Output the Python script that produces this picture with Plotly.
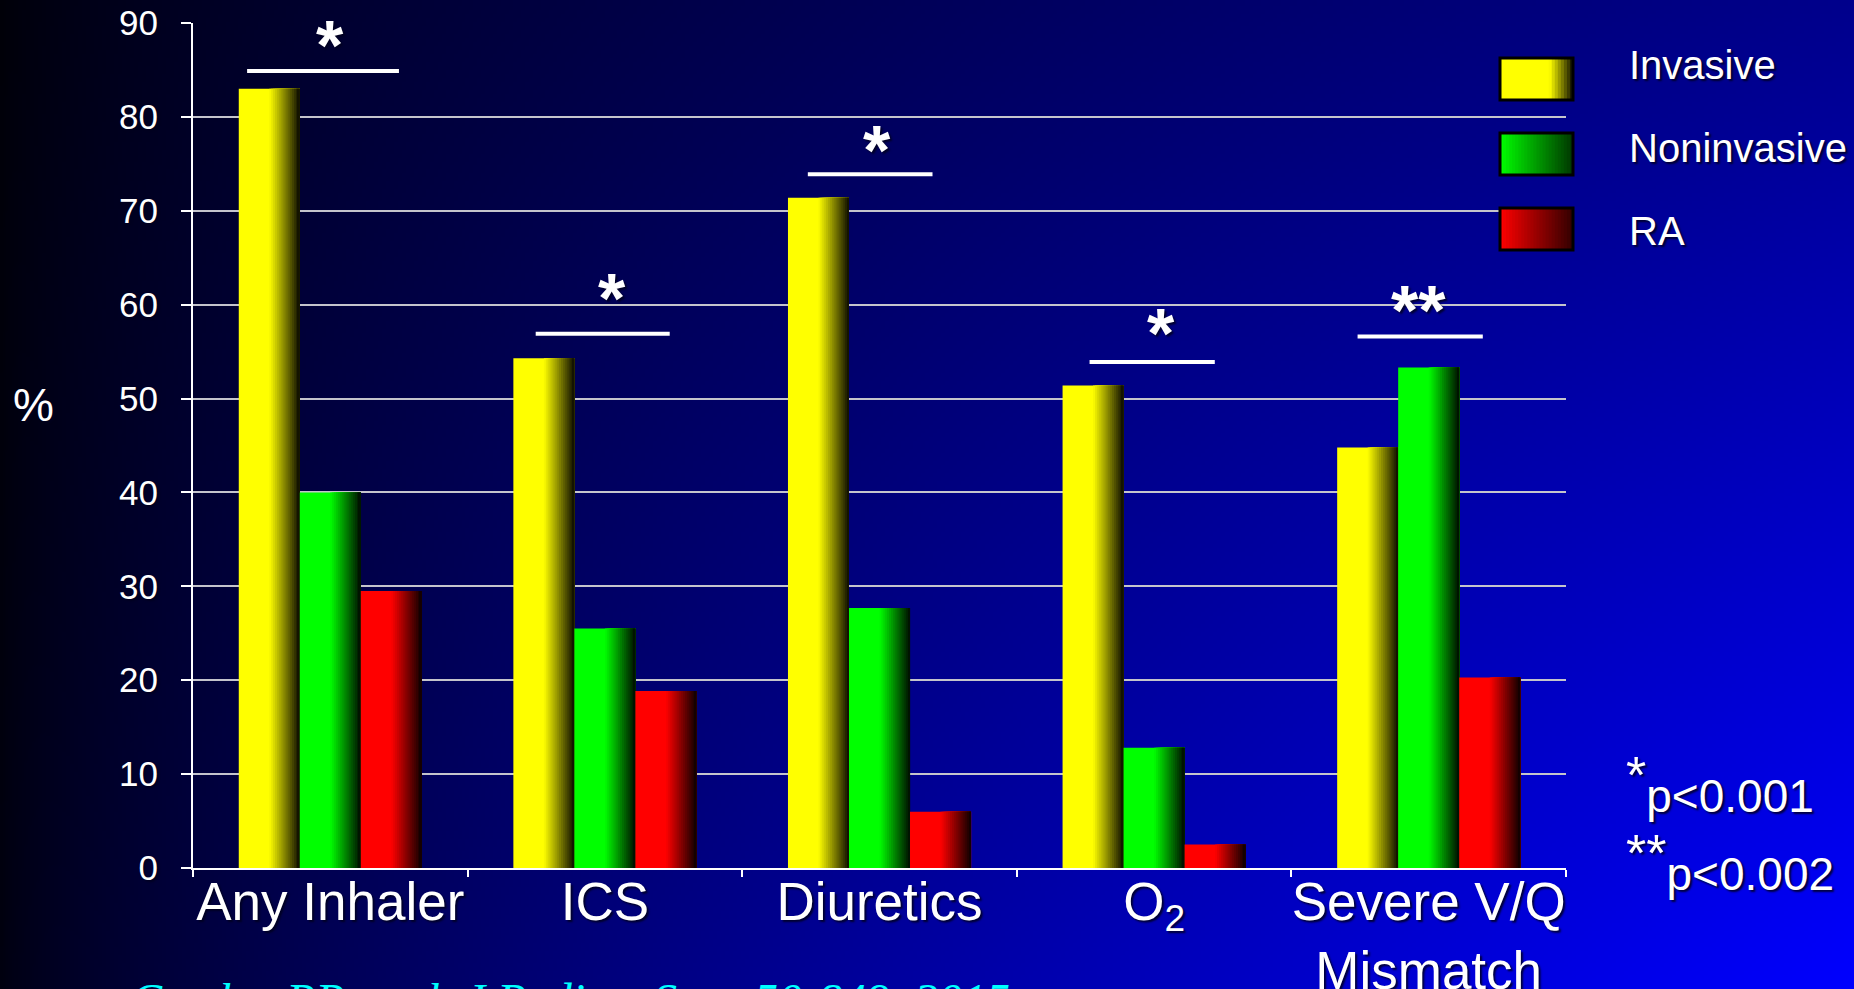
import base64
import struct
import zlib

import numpy as np
import plotly.graph_objects as go

# ---------------------------------------------------------------- data
categories = ["Any Inhaler", "ICS", "Diuretics", "O<sub>2</sub>", "Severe V/Q<br>Mismatch"]
series_names = ["Invasive", "Noninvasive", "RA"]
invasive = [83.0, 54.3, 71.4, 51.4, 44.8]
noninvasive = [40.0, 25.5, 27.7, 12.8, 53.3]
ra = [29.5, 18.85, 6.0, 2.5, 20.3]

# significance brackets: height of the bar line, its extent around the
# category centre, and the marker placed above it
sig_marks = ["*", "*", "*", "*", "**"]
sig_line_y = [84.9, 56.9, 73.9, 53.9, 56.6]
sig_line_lo = [-0.303, -0.252, -0.261, -0.235, -0.259]
sig_line_hi = [0.250, 0.236, 0.193, 0.221, 0.197]
sig_mark_y = [88.7, 61.8, 77.5, 58.1, 60.5]
sig_mark_dx = [0.0, 0.025, -0.01, 0.024, -0.036]

footnote_marks = ["*", "**"]
footnote_text = ["p&lt;0.001", "p&lt;0.002"]
citation = "Cowley PP et al. J Pediatr Surg 50:849, 2015"
y_title = "%"

# ---------------------------------------------------------------- layout geometry
W, H = 1854, 989
ML, MR, MT, MB = 193, 288, 23, 121
PW, PH = W - ML - MR, H - MT - MB


def px(x):
    return (x - ML) / PW


def py(y):
    return (H - MB - y) / PH


FONT = "Liberation Sans, Arial, sans-serif"
SHADOW = "2px 2px 2px rgba(0,0,30,0.85)"


# ---------------------------------------------------------------- background
def png_data_uri(rgb):
    h, w, _ = rgb.shape
    raw = b"".join(b"\x00" + rgb[r].tobytes() for r in range(h))

    def chunk(tag, data):
        body = tag + data
        return struct.pack(">I", len(data)) + body + struct.pack(">I", zlib.crc32(body) & 0xFFFFFFFF)

    png = (b"\x89PNG\r\n\x1a\n"
           + chunk(b"IHDR", struct.pack(">IIBBBBB", w, h, 8, 2, 0, 0, 0))
           + chunk(b"IDAT", zlib.compress(raw, 9))
           + chunk(b"IEND", b""))
    return "data:image/png;base64," + base64.b64encode(png).decode()


gw, gh = 464, 248
u = np.linspace(0, 1, gw)[None, :]
v = np.linspace(0, 1, gh)[:, None]
blue = 255 * (0.06 + 0.94 * u ** 0.7) * (0.55 + 0.45 * v)
bg = np.zeros((gh, gw, 3), dtype=np.uint8)
bg[..., 2] = np.clip(blue, 0, 255).astype(np.uint8)
bg_uri = png_data_uri(bg)

# ---------------------------------------------------------------- bars
fig = go.Figure()

base_colors = [(255, 255, 0), (0, 255, 0), (255, 0, 0)]
values = [invasive, noninvasive, ra]
bar_w = 2 / 9
n_fade = 16

for s, (vals, col) in enumerate(zip(values, base_colors)):
    off = -1 / 3 + s * bar_w
    # solid body of the bar
    fig.add_trace(go.Bar(
        x=categories, y=vals, offset=off, width=bar_w,
        marker=dict(color="rgb(%d,%d,%d)" % col, line=dict(width=0)),
        name=series_names[s], showlegend=False, hoverinfo="skip",
    ))
    # right half shades towards black
    for k in range(n_fade):
        start = off + bar_w * (0.5 + 0.5 * k / n_fade)
        t = (k + 0.5) / n_fade
        f = 1 - 0.95 * t
        c = tuple(int(round(ch * f)) for ch in col)
        fig.add_trace(go.Bar(
            x=categories, y=vals, offset=start, width=off + bar_w - start,
            marker=dict(color="rgb(%d,%d,%d)" % c, line=dict(width=0)),
            showlegend=False, hoverinfo="skip",
        ))

# ---------------------------------------------------------------- significance
shapes = []
annotations = []
for i, mark in enumerate(sig_marks):
    shapes.append(dict(
        type="line", xref="x", yref="y",
        x0=i + sig_line_lo[i], x1=i + sig_line_hi[i],
        y0=sig_line_y[i], y1=sig_line_y[i],
        line=dict(color="white", width=4),
    ))
    annotations.append(dict(
        xref="x", yref="y", x=i + sig_mark_dx[i], y=sig_mark_y[i],
        text="<b>%s</b>" % mark, showarrow=False, yshift=-11,
        font=dict(family=FONT, size=70, color="white", shadow=SHADOW),
    ))

# ---------------------------------------------------------------- legend
legend_fill = [
    lambda t: (255 * (1 if t < 0.68 else 1 - 0.95 * (t - 0.68) / 0.32),
               255 * (1 if t < 0.68 else 1 - 0.95 * (t - 0.68) / 0.32), 0),
    lambda t: (0, 255 - 200 * t, 0),
    lambda t: (255 - 205 * t, 0, 0),
]
sw_x0, sw_x1 = 1500, 1573
sw_y = [(58, 100), (133, 175), (208, 250)]
label_y = [65, 148, 231]
n_sw = 24
for s, name in enumerate(series_names):
    y0, y1 = sw_y[s]
    for k in range(n_sw):
        xa = sw_x0 + (sw_x1 - sw_x0) * k / n_sw
        t = (k + 0.5) / n_sw
        r, g, b = legend_fill[s](t)
        shapes.append(dict(
            type="rect", xref="paper", yref="paper",
            x0=px(xa), x1=px(sw_x1), y0=py(y1), y1=py(y0),
            fillcolor="rgb(%d,%d,%d)" % (r, g, b), line=dict(width=0),
        ))
    shapes.append(dict(
        type="rect", xref="paper", yref="paper",
        x0=px(sw_x0), x1=px(sw_x1), y0=py(y1), y1=py(y0),
        fillcolor="rgba(0,0,0,0)", line=dict(color="black", width=3),
    ))
    annotations.append(dict(
        xref="paper", yref="paper", x=px(1627), y=py(label_y[s]),
        xanchor="left", yanchor="middle", text=name, showarrow=False,
        font=dict(family=FONT, size=40, color="white", shadow=SHADOW),
    ))

# ---------------------------------------------------------------- notes and titles
for j in range(len(footnote_text)):
    annotations.append(dict(
        xref="paper", yref="paper", x=px(1624), y=py([784, 862][j]),
        xanchor="left", yanchor="middle", showarrow=False,
        text="<sup><span style='font-size:52px'>%s</span></sup>%s"
             % (footnote_marks[j], footnote_text[j]),
        font=dict(family=FONT, size=46, color="white", shadow=SHADOW),
    ))

annotations.append(dict(
    xref="paper", yref="paper", x=px(33), y=py(405),
    xanchor="center", yanchor="middle", text=y_title, showarrow=False,
    font=dict(family=FONT, size=46, color="white", shadow=SHADOW),
))

annotations.append(dict(
    xref="paper", yref="paper", x=px(128), y=py(972),
    xanchor="left", yanchor="top", text="<i>%s</i>" % citation, showarrow=False,
    font=dict(family="Liberation Serif, Times New Roman, serif", size=48, color="#00ffff"),
))

fig.update_layout(
    width=W, height=H,
    margin=dict(l=ML, r=MR, t=MT, b=MB, pad=0, autoexpand=False),
    paper_bgcolor="#000060", plot_bgcolor="rgba(0,0,0,0)",
    barmode="overlay", showlegend=False,
    font=dict(family=FONT, color="white"),
    images=[dict(
        source=bg_uri, xref="paper", yref="paper",
        x=px(0), y=py(0), sizex=W / PW, sizey=H / PH,
        xanchor="left", yanchor="top", sizing="stretch", layer="below",
    )],
    shapes=shapes, annotations=annotations,
    xaxis=dict(
        type="category", range=[-0.5, 4.5], tickson="boundaries", tickangle=0,
        ticks="outside", ticklen=7, tickwidth=2, tickcolor="white",
        showline=True, linecolor="white", linewidth=2, showgrid=False,
        ticklabelstandoff=-14,
        tickfont=dict(family=FONT, size=53, color="white", shadow=SHADOW),
        fixedrange=True,
    ),
    yaxis=dict(
        range=[0, 90], tick0=0, dtick=10,
        ticks="outside", ticklen=10, tickwidth=2, tickcolor="white",
        showline=True, linecolor="white", linewidth=2, ticklabelstandoff=16,
        showgrid=True, gridcolor="#c4c4cc", gridwidth=2, zeroline=False,
        tickfont=dict(family=FONT, size=35, color="white", shadow=SHADOW),
        fixedrange=True,
    ),
)

fig.write_html("out.html", config={"displayModeBar": False},
               post_script="document.body.style.margin='0';")
